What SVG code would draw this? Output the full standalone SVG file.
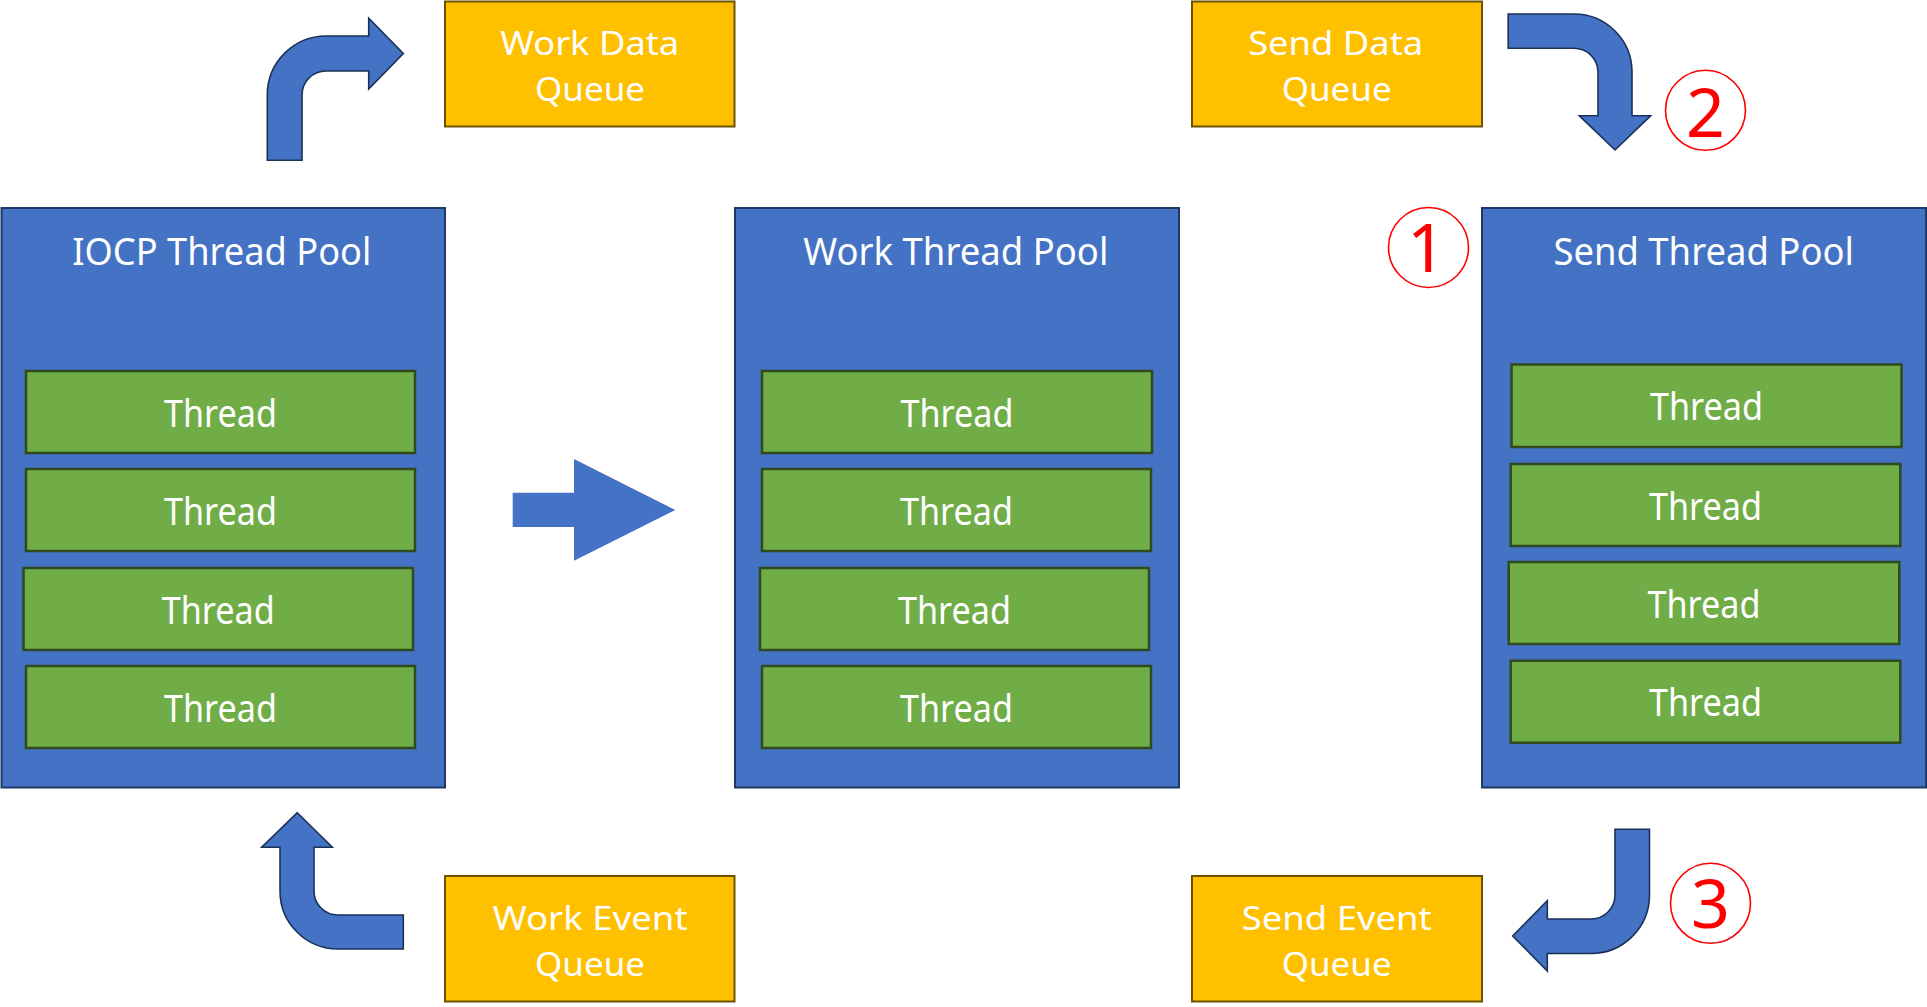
<svg xmlns="http://www.w3.org/2000/svg" width="1927" height="1007" viewBox="0 0 1927 1007">
<style>
.pool{fill:#4472C4;stroke:#1F3864;stroke-width:2}
.thread{fill:#70AD47;stroke:#2E4A1E;stroke-width:2.5}
.queue{fill:#FFC000;stroke:#6B5200;stroke-width:2}
.arrow{fill:#4472C4;stroke:#1B3158;stroke-width:1.6;stroke-linejoin:miter}
.big{fill:#4472C4;stroke:none}
.t{font-family:"Noto Sans","Open Sans","DejaVu Sans",sans-serif;font-size:38px;fill:#FFFFFF}
.q{font-family:"Noto Sans","Open Sans","DejaVu Sans",sans-serif;font-size:33.5px;fill:#FFFFFF}
.num{fill:none;stroke:#FF0000;stroke-width:1.6}
.nt{font-family:"Noto Sans","DejaVu Sans",sans-serif;font-size:68px;fill:#FF0000;text-anchor:middle}
</style>
<rect width="1927" height="1007" fill="#FFFFFF"/>

<g id="iocp-pool">
<rect class="pool" x="1.5" y="208" width="443.5" height="579.5"/>
<text class="t" x="72.3" y="265" textLength="299" lengthAdjust="spacingAndGlyphs">IOCP Thread Pool</text>
<g id="iocp-thread-1"><rect class="thread" x="26" y="371" width="389" height="82"/><text class="t" x="164" y="426.5" textLength="113" lengthAdjust="spacingAndGlyphs">Thread</text></g>
<g id="iocp-thread-2"><rect class="thread" x="26" y="469" width="389" height="82"/><text class="t" x="164" y="524.5" textLength="113" lengthAdjust="spacingAndGlyphs">Thread</text></g>
<g id="iocp-thread-3"><rect class="thread" x="23.5" y="568" width="389.5" height="82"/><text class="t" x="161.75" y="623.5" textLength="113" lengthAdjust="spacingAndGlyphs">Thread</text></g>
<g id="iocp-thread-4"><rect class="thread" x="26" y="666" width="389" height="82"/><text class="t" x="164" y="721.5" textLength="113" lengthAdjust="spacingAndGlyphs">Thread</text></g>
</g>

<g id="work-pool">
<rect class="pool" x="735" y="208" width="444" height="579.5"/>
<text class="t" x="803.3" y="265" textLength="305" lengthAdjust="spacingAndGlyphs">Work Thread Pool</text>
<g id="work-thread-1"><rect class="thread" x="762" y="371" width="390" height="82"/><text class="t" x="900.5" y="426.5" textLength="113" lengthAdjust="spacingAndGlyphs">Thread</text></g>
<g id="work-thread-2"><rect class="thread" x="762" y="469" width="389" height="82"/><text class="t" x="900" y="524.5" textLength="113" lengthAdjust="spacingAndGlyphs">Thread</text></g>
<g id="work-thread-3"><rect class="thread" x="760" y="568" width="389" height="82"/><text class="t" x="898" y="623.5" textLength="113" lengthAdjust="spacingAndGlyphs">Thread</text></g>
<g id="work-thread-4"><rect class="thread" x="762" y="666" width="389" height="82"/><text class="t" x="900" y="721.5" textLength="113" lengthAdjust="spacingAndGlyphs">Thread</text></g>
</g>

<g id="send-pool">
<rect class="pool" x="1482" y="208" width="444" height="579.5"/>
<text class="t" x="1553.4" y="265" textLength="300.5" lengthAdjust="spacingAndGlyphs">Send Thread Pool</text>
<g id="send-thread-1"><rect class="thread" x="1511.5" y="364.5" width="390" height="82.5"/><text class="t" x="1650" y="420.2" textLength="113" lengthAdjust="spacingAndGlyphs">Thread</text></g>
<g id="send-thread-2"><rect class="thread" x="1510.7" y="464" width="389.6" height="82"/><text class="t" x="1649" y="519.5" textLength="113" lengthAdjust="spacingAndGlyphs">Thread</text></g>
<g id="send-thread-3"><rect class="thread" x="1508.7" y="562" width="390.6" height="82"/><text class="t" x="1647.5" y="617.5" textLength="113" lengthAdjust="spacingAndGlyphs">Thread</text></g>
<g id="send-thread-4"><rect class="thread" x="1510.7" y="660.7" width="389.6" height="82"/><text class="t" x="1649" y="716.2" textLength="113" lengthAdjust="spacingAndGlyphs">Thread</text></g>
</g>

<g id="work-data-queue">
<rect class="queue" x="445" y="1.5" width="289.5" height="125"/>
<text class="q" x="500.2" y="54.5" textLength="179" lengthAdjust="spacingAndGlyphs">Work Data</text>
<text class="q" x="535" y="100.5" textLength="110" lengthAdjust="spacingAndGlyphs">Queue</text>
</g>
<g id="send-data-queue">
<rect class="queue" x="1192" y="1.5" width="290" height="125"/>
<text class="q" x="1248.2" y="54.5" textLength="175" lengthAdjust="spacingAndGlyphs">Send Data</text>
<text class="q" x="1281.7" y="100.5" textLength="110" lengthAdjust="spacingAndGlyphs">Queue</text>
</g>
<g id="work-event-queue">
<rect class="queue" x="445" y="876" width="289.5" height="125.5"/>
<text class="q" x="492.7" y="929.5" textLength="195" lengthAdjust="spacingAndGlyphs">Work Event</text>
<text class="q" x="535" y="975.5" textLength="110" lengthAdjust="spacingAndGlyphs">Queue</text>
</g>
<g id="send-event-queue">
<rect class="queue" x="1192" y="876" width="290" height="125.5"/>
<text class="q" x="1241.7" y="929.5" textLength="190" lengthAdjust="spacingAndGlyphs">Send Event</text>
<text class="q" x="1281.7" y="975.5" textLength="110" lengthAdjust="spacingAndGlyphs">Queue</text>
</g>

<g id="connectors">
<path id="arrow-iocp-to-workdata" class="arrow" d="M267.3,160.3 V95 A59,59 0 0 1 326,36 H368.7 V18.3 L403.3,53.5 L368.7,89 V71 H326 A24,24 0 0 0 302,95 V160.3 Z"/>
<path id="arrow-senddata-to-send" class="arrow" d="M1508.2,14 H1574 A58,58 0 0 1 1632,72 V115.7 H1650.7 L1615,150 L1579.3,115.7 H1598 V72 A24,24 0 0 0 1574,48.3 H1508.2 Z"/>
<path id="arrow-workevent-to-iocp" class="arrow" d="M297.3,812.7 L332.3,847.3 H314 V891 A24,24 0 0 0 338,915 H403.3 V949 H338 A58,58 0 0 1 280,891 V847.3 H261.7 Z"/>
<path id="arrow-send-to-sendevent" class="arrow" d="M1615,829.3 H1649.5 V895 A58.5,58.5 0 0 1 1591,953.5 H1547.3 V971 L1512.7,936 L1547.3,900.7 V919 H1591 A24,24 0 0 0 1615,895 Z"/>
<path id="arrow-iocp-to-work" class="big" d="M512.7,492.7 H574 V459 L675.3,510 L574,560.7 V527 H512.7 Z"/>
</g>

<g id="step-1">
<circle class="num" cx="1428.5" cy="247.5" r="40"/>
<text class="nt" x="1426.5" y="271.7">1</text>
</g>
<g id="step-2">
<circle class="num" cx="1705.5" cy="110.3" r="40"/>
<text class="nt" x="1705.5" y="136.7">2</text>
</g>
<g id="step-3">
<circle class="num" cx="1710.5" cy="903.3" r="40"/>
<text class="nt" x="1710.5" y="928.3">3</text>
</g>
</svg>
